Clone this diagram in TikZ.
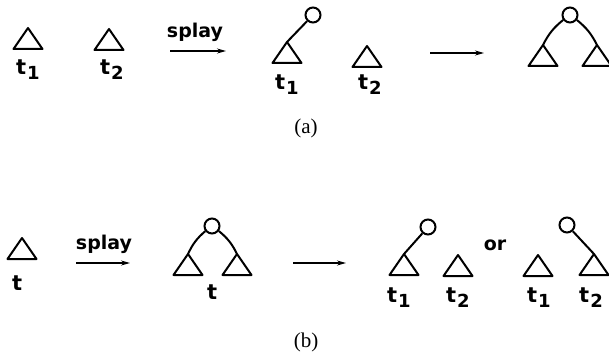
\documentclass[tikz,border=0pt]{standalone}
\usepackage{fontspec}
\setmainfont{Liberation Serif}
\newfontfamily\hand{DejaVu Sans Bold}
\usetikzlibrary{arrows.meta}
\tikzset{
  ln/.style={line width=2pt, line join=round},
  circ/.style={circle, draw, line width=2pt, minimum size=15pt, inner sep=0pt},
  arr/.style={line width=1.3pt, -{Stealth[length=9pt,width=5pt]}},
  lbl/.style={font=\hand\fontsize{21}{21}\selectfont, inner sep=0pt, anchor=base west},
  word/.style={font=\hand\fontsize{19}{19}\selectfont, inner sep=0pt},
  captxt/.style={font=\fontsize{21}{21}\selectfont, inner sep=0pt},
}
\newcommand{\tri}[1]{\draw[ln] (#1) -- ++(-14.5,21) -- ++(29,0) -- cycle;}
\newcommand{\sub}[2]{#1\kern1pt\raisebox{-5pt}{\fontsize{18}{18}\selectfont #2}}
\begin{document}
\begin{tikzpicture}[x=1pt,y=-1pt]
\useasboundingbox (0,0) rectangle (609,355);
% ---------- (a) ----------
\coordinate (a1) at (28,28); \tri{a1}
\node[lbl] (la1) at (16,75) {\sub{t}{1}};
\coordinate (a2) at (109,29); \tri{a2}
\node[lbl] (la2) at (100,75) {\sub{t}{2}};
\node[word] (sp1) at (195,32) {splay};
\coordinate (s1a) at (170,51); \coordinate (s1b) at (226,51);
\draw[arr] (s1a) -- (s1b);
\node[circ] (c1) at (313,15) {};
\coordinate (a3) at (287,42); \tri{a3}
\draw[ln] (c1) -- (a3);
\node[lbl] (la3) at (275,90) {\sub{t}{1}};
\coordinate (a4) at (367,46); \tri{a4}
\node[lbl] (la4) at (358,90) {\sub{t}{2}};
\coordinate (s2a) at (430,53); \coordinate (s2b) at (484,53);
\draw[arr] (s2a) -- (s2b);
\node[circ] (c2) at (570,15) {};
\coordinate (a5) at (543,45); \tri{a5}
\coordinate (a6) at (597,45); \tri{a6}
\draw[ln] (c2) to[bend right=12] (a5);
\draw[ln] (c2) to[bend left=12] (a6);
\node[captxt] (capa) at (306,128) {(a)};
% ---------- (b) ----------
\coordinate (b1) at (22,238); \tri{b1}
\node[lbl] (lb1) at (12,290) {t};
\node[word] (sp2) at (104,244) {splay};
\coordinate (s3a) at (76,263); \coordinate (s3b) at (130,263);
\draw[arr] (s3a) -- (s3b);
\node[circ] (c3) at (212,226) {};
\coordinate (b2) at (188,254); \tri{b2}
\coordinate (b3) at (237,254); \tri{b3}
\draw[ln] (c3) to[bend right=12] (b2);
\draw[ln] (c3) to[bend left=12] (b3);
\node[lbl] (lb2) at (207,299) {t};
\coordinate (s4a) at (293,263); \coordinate (s4b) at (346,263);
\draw[arr] (s4a) -- (s4b);
\node[circ] (c4) at (428,227) {};
\coordinate (b4) at (404,254); \tri{b4}
\draw[ln] (c4) -- (b4);
\node[lbl] (lb3) at (387,302) {\sub{t}{1}};
\coordinate (b5) at (458,255); \tri{b5}
\node[lbl] (lb4) at (446,302) {\sub{t}{2}};
\node[word] (or) at (495,245) {or};
\coordinate (b6) at (538,255); \tri{b6}
\node[lbl] (lb5) at (527,302) {\sub{t}{1}};
\node[circ] (c5) at (567,225) {};
\coordinate (b7) at (594,254); \tri{b7}
\draw[ln] (c5) -- (b7);
\node[lbl] (lb6) at (579,302) {\sub{t}{2}};
\node[captxt] (capb) at (306,342) {(b)};
\end{tikzpicture}
\end{document}
